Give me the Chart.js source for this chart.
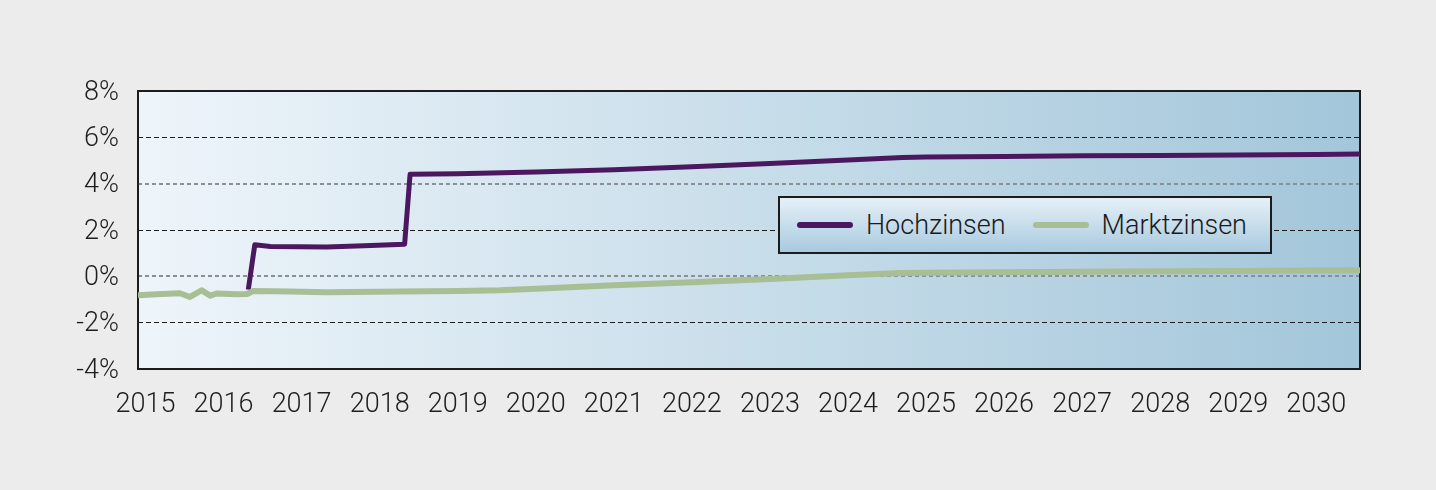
<!DOCTYPE html>
<html>
<head>
<meta charset="utf-8">
<script src="https://cdn.jsdelivr.net/npm/chart.js@4"></script>
<style>
  html, body { margin: 0; padding: 0; background: #ececec; }
  #wrap { position: relative; width: 1436px; height: 490px; }
  #legend {
    position: absolute; left: 778px; top: 196px; width: 494px; height: 58px;
    box-sizing: border-box; border: 2px solid #1c1c1c;
    background: linear-gradient(to bottom, #e6f0f7 0%, #a8cadf 100%);
    display: flex; align-items: center; padding-left: 17px;
    font-family: Roboto, "Liberation Sans", sans-serif; font-weight: 300; font-size: 27px; color: #1a1a1a;
  }
  #legend .item { display: flex; align-items: center; margin-right: 27px; }
  #legend .swatch { width: 56px; height: 6px; border-radius: 3px; margin-right: 13px; }
</style>
</head>
<body>
<div id="wrap">
  <canvas id="c" width="1436" height="490"></canvas>
  <div id="legend"></div>
</div>
<script>
const seriesNames = ['Hochzinsen', 'Marktzinsen'];
const hochYears  = [2016.317, 2016.40, 2016.6, 2017.32, 2017.8, 2018.32, 2018.39, 2019, 2020, 2021, 2022, 2023, 2024, 2024.7, 2025, 2026, 2027, 2028, 2029, 2030, 2030.56];
const hochValues = [-0.57, 1.36, 1.29, 1.27, 1.32, 1.39, 4.41, 4.43, 4.50, 4.60, 4.73, 4.87, 5.02, 5.13, 5.15, 5.17, 5.20, 5.22, 5.24, 5.26, 5.28];
const marktYears  = [2014.904, 2015.14, 2015.44, 2015.57, 2015.72, 2015.83, 2015.91, 2016.17, 2016.30, 2016.38, 2016.85, 2017.32, 2018.26, 2019.0, 2019.54, 2020, 2021, 2022, 2023, 2024, 2024.67, 2025, 2026, 2027, 2028, 2029, 2030, 2030.56];
const marktValues = [-0.82, -0.77, -0.73, -0.89, -0.60, -0.84, -0.74, -0.77, -0.76, -0.63, -0.66, -0.69, -0.65, -0.63, -0.60, -0.54, -0.39, -0.26, -0.11, 0.05, 0.14, 0.16, 0.18, 0.20, 0.22, 0.23, 0.25, 0.26];
const yearTicks = [2015, 2016, 2017, 2018, 2019, 2020, 2021, 2022, 2023, 2024, 2025, 2026, 2027, 2028, 2029, 2030];
const percentTicks = [-4, -2, 0, 2, 4, 6, 8];

const toPoints = (xs, ys) => xs.map((x, i) => ({ x: x, y: ys[i] }));
const FONT = { family: 'Roboto, "Liberation Sans", sans-serif', size: 27, weight: 300 };

const bgPlugin = {
  id: 'plotBg',
  beforeDraw(chart) {
    const { ctx, chartArea: a } = chart;
    const g = ctx.createLinearGradient(a.left, 0, a.right, 0);
    g.addColorStop(0, '#eef5fa');
    g.addColorStop(1, '#a3c6da');
    ctx.save();
    ctx.fillStyle = g;
    ctx.fillRect(a.left, a.top, a.right - a.left, a.bottom - a.top);
    ctx.restore();
  },
  beforeDatasetsDraw(chart) {
    const { ctx, chartArea: a } = chart;
    ctx.save();
    ctx.strokeStyle = '#1c1c1c';
    ctx.lineWidth = 2;
    ctx.strokeRect(a.left, a.top, a.right - a.left, a.bottom - a.top);
    ctx.restore();
  }
};

const htmlLegend = {
  id: 'htmlLegend',
  afterUpdate(chart) {
    const el = document.getElementById('legend');
    el.innerHTML = '';
    chart.data.datasets.forEach(ds => {
      const item = document.createElement('div');
      item.className = 'item';
      const sw = document.createElement('span');
      sw.className = 'swatch';
      sw.style.background = ds.borderColor;
      const tx = document.createElement('span');
      tx.textContent = ds.label;
      item.appendChild(sw); item.appendChild(tx);
      el.appendChild(item);
    });
  }
};

new Chart(document.getElementById('c'), {
  type: 'line',
  data: {
    datasets: [
      { label: seriesNames[0], data: toPoints(hochYears, hochValues), borderColor: '#4b1860', borderWidth: 5, order: 1 },
      { label: seriesNames[1], data: toPoints(marktYears, marktValues), borderColor: '#a8be95', borderWidth: 6, order: 0 }
    ]
  },
  options: {
    responsive: false,
    animation: false,
    devicePixelRatio: 1,
    layout: { padding: { left: 0, top: 91, right: 76, bottom: 61 } },
    elements: { point: { radius: 0 }, line: { tension: 0, borderJoinStyle: 'round', fill: false } },
    plugins: { legend: { display: false }, tooltip: { enabled: false } },
    scales: {
      x: {
        type: 'linear', min: 2014.904, max: 2030.56,
        afterFit(s) { s.height = 60; },
        afterBuildTicks(s) { s.ticks = yearTicks.map(v => ({ value: v })); },
        grid: { display: false, drawTicks: false },
        border: { display: false },
        ticks: { font: FONT, color: '#1e1e1e', padding: 20, maxRotation: 0, autoSkip: false, callback: v => String(v) }
      },
      y: {
        min: -4, max: 8,
        afterFit(s) { s.width = 138; },
        afterBuildTicks(s) { s.ticks = percentTicks.map(v => ({ value: v })); },
        grid: {
          drawTicks: false,
          color: c => (c.tick && (c.tick.value === 4 || c.tick.value === 0)) ? '#8b9096' : (c.tick && (c.tick.value === 8 || c.tick.value === -4) ? 'rgba(0,0,0,0)' : '#1e1e1e'),
          lineWidth: c => (c.tick && (c.tick.value === 4 || c.tick.value === 0)) ? 2 : 1
        },
        border: {
          display: false,
          dash: c => (c.tick && (c.tick.value === 4 || c.tick.value === 0)) ? [4, 3] : [5, 3]
        },
        ticks: { font: FONT, color: '#1e1e1e', padding: 19, labelOffset: 2, callback: v => v + '%' }
      }
    }
  },
  plugins: [bgPlugin, htmlLegend]
});
</script>
</body>
</html>
